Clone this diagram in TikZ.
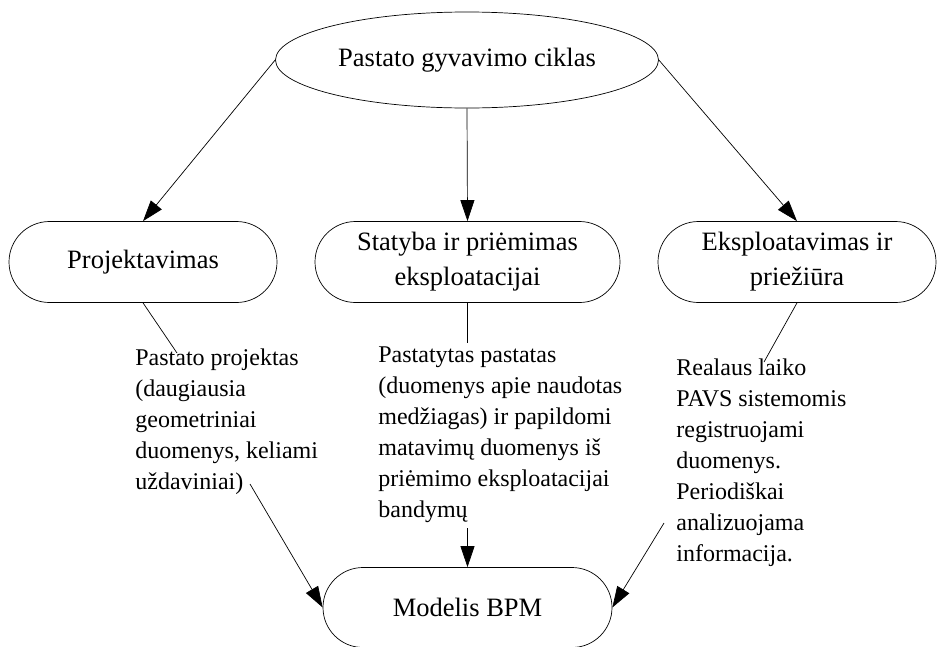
\documentclass[tikz,border=0pt]{standalone}
\usepackage{fontspec}
\setmainfont{Liberation Serif}
\usetikzlibrary{shapes.geometric,shapes.misc,arrows.meta}
\begin{document}
\begin{tikzpicture}[x=1pt,y=-1pt,
  every path/.style={line width=0.7pt},
  phase/.style={draw,rounded rectangle,inner sep=0pt,align=center,
    font=\fontsize{26.5}{35}\selectfont},
  note/.style={anchor=north west,inner sep=0pt,align=left,
    font=\fontsize{24}{31}\selectfont},
  arr/.style={-{Triangle[length=21pt,width=14pt]}},
  plain/.style={-}]
\useasboundingbox (0,0) rectangle (937,646);
\node[draw,ellipse,minimum width=383,minimum height=96,inner sep=0pt,
  font=\fontsize{26.5}{35}\selectfont] (top) at (467,60) {Pastato gyvavimo ciklas};
\node[phase,minimum width=268,minimum height=81] (lb) at (143,262) {Projektavimas};
\node[phase,minimum width=305,minimum height=81] (mb) at (467.5,262) {Statyba ir priėmimas\\eksploatacijai};
\node[phase,minimum width=278,minimum height=81] (rb) at (797,262) {Eksploatavimas ir\\priežiūra};
\node[phase,minimum width=289,minimum height=80] (bpm) at (467.5,607.5) {Modelis BPM};

\node[note] (lt) at (135,348) {Pastato projektas\\(daugiausia\\geometriniai\\duomenys, keliami\\uždaviniai)};
\node[note] (mt) at (378,346) {Pastatytas pastatas\\(duomenys apie naudotas\\medžiagas) ir papildomi\\matavimų duomenys iš\\priėmimo eksploatacijai\\bandymų};
\node[note] (rt) at (676,358) {Realaus laiko\\PAVS sistemomis\\registruojami\\duomenys.\\Periodiškai\\analizuojama\\informacija.};

\coordinate (l1) at (177,353);
\coordinate (l2) at (250,484);
\coordinate (m1) at (467.5,343);
\coordinate (m2) at (467.5,528);
\coordinate (r1) at (764,362);
\coordinate (r2) at (664,523);

\draw[arr] (top.west) -- (lb.north);
\draw[arr] (top.south) -- (mb.north);
\draw[arr] (top.east) -- (rb.north);

\draw[plain] (lb.south) -- (l1);
\draw[arr] (l2) -- (bpm.west);
\draw[plain] (mb.south) -- (m1);
\draw[arr] (m2) -- (bpm.north);
\draw[plain] (rb.south) -- (r1);
\draw[arr] (r2) -- (bpm.east);
\end{tikzpicture}
\end{document}
